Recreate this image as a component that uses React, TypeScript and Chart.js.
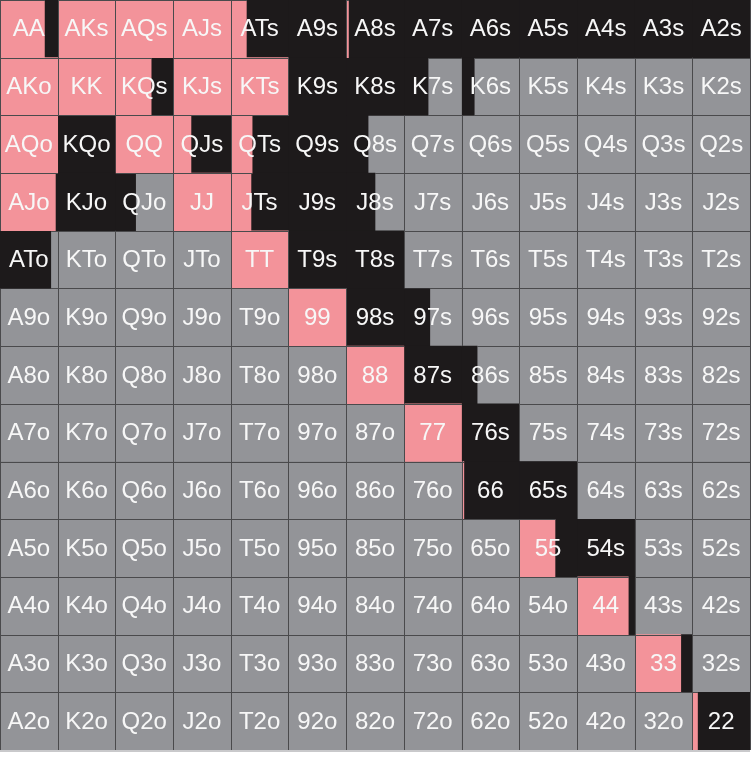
import { useEffect, useRef } from 'react';
import Chart from 'chart.js/auto';

// rank order, top-left is AA
const ranks = ['A', 'K', 'Q', 'J', 'T', '9', '8', '7', '6', '5', '4', '3', '2'];

// share of each hand that is raised (pink), rows by first rank, columns by second
const raiseShare = [
  [0.77, 1, 1, 1, 0.27, 0, 0.04, 0, 0, 0, 0, 0, 0],
  [1, 1, 0.62, 1, 1, 0, 0, 0, 0, 0, 0, 0, 0],
  [1, 0, 1, 0.31, 0.37, 0, 0, 0, 0, 0, 0, 0, 0],
  [0.96, 0, 0, 1, 0.35, 0, 0, 0, 0, 0, 0, 0, 0],
  [0, 0, 0, 0, 1, 0, 0, 0, 0, 0, 0, 0, 0],
  [0, 0, 0, 0, 0, 1, 0, 0, 0, 0, 0, 0, 0],
  [0, 0, 0, 0, 0, 0, 1, 0, 0, 0, 0, 0, 0],
  [0, 0, 0, 0, 0, 0, 0, 1, 0, 0, 0, 0, 0],
  [0, 0, 0, 0, 0, 0, 0, 0, 0.04, 0, 0, 0, 0],
  [0, 0, 0, 0, 0, 0, 0, 0, 0, 0.62, 0, 0, 0],
  [0, 0, 0, 0, 0, 0, 0, 0, 0, 0, 0.89, 0, 0],
  [0, 0, 0, 0, 0, 0, 0, 0, 0, 0, 0, 0.8, 0],
  [0, 0, 0, 0, 0, 0, 0, 0, 0, 0, 0, 0, 0.09],
];

// share of each hand that is called (black); the rest is folded (grey)
const callShare = [
  [0.23, 0, 0, 0, 0.73, 1, 0.96, 1, 1, 1, 1, 1, 1],
  [0, 0, 0.38, 0, 0, 1, 1, 0.42, 0.22, 0, 0, 0, 0],
  [0, 1, 0, 0.69, 0.63, 1, 0.38, 0, 0, 0, 0, 0, 0],
  [0.04, 1, 0.35, 0, 0.65, 1, 0.5, 0, 0, 0, 0, 0, 0],
  [0.88, 0, 0, 0, 0, 1, 1, 0, 0, 0, 0, 0, 0],
  [0, 0, 0, 0, 0, 0, 1, 0.45, 0, 0, 0, 0, 0],
  [0, 0, 0, 0, 0, 0, 0, 1, 0.27, 0, 0, 0, 0],
  [0, 0, 0, 0, 0, 0, 0, 0, 1, 0, 0, 0, 0],
  [0, 0, 0, 0, 0, 0, 0, 0, 0.96, 1, 0, 0, 0],
  [0, 0, 0, 0, 0, 0, 0, 0, 0, 0.38, 1, 0, 0],
  [0, 0, 0, 0, 0, 0, 0, 0, 0, 0, 0.11, 0, 0],
  [0, 0, 0, 0, 0, 0, 0, 0, 0, 0, 0, 0.2, 0],
  [0, 0, 0, 0, 0, 0, 0, 0, 0, 0, 0, 0, 0.91],
];

const PINK = '#f3939a';
const BLACK = '#1d1a1b';
const GREY = '#939498';

const handLabel = (r: number, c: number) => {
  if (r === c) return ranks[r] + ranks[c];
  if (c > r) return ranks[r] + ranks[c] + 's';
  return ranks[c] + ranks[r] + 'o';
};

const segment = (from: number, to: number) => (to - from > 0.001 ? [from, to] : null);

const buildDatasets = () => {
  const sets: any[] = [];
  for (let c = 0; c < ranks.length; c++) {
    const common = { grouped: false, barPercentage: 1, categoryPercentage: 1, borderWidth: 0 };
    sets.push({
      ...common,
      label: 'raise',
      backgroundColor: PINK,
      data: ranks.map((_, r) => segment(c, c + raiseShare[r][c])),
    });
    sets.push({
      ...common,
      label: 'call',
      backgroundColor: BLACK,
      data: ranks.map((_, r) => segment(c + raiseShare[r][c], c + raiseShare[r][c] + callShare[r][c])),
    });
    sets.push({
      ...common,
      label: 'fold',
      backgroundColor: GREY,
      data: ranks.map((_, r) => segment(c + raiseShare[r][c] + callShare[r][c], c + 1)),
    });
  }
  return sets;
};

// dark fill under the bars so the seams between black cells vanish
const darkBase = {
  id: 'darkBase',
  beforeDatasetsDraw(chart: any) {
    const { ctx, chartArea } = chart;
    ctx.save();
    ctx.fillStyle = BLACK;
    ctx.fillRect(chartArea.left, chartArea.top, chartArea.right - chartArea.left, chartArea.bottom - chartArea.top);
    ctx.restore();
  },
};

const gridAndLabels = {
  id: 'gridAndLabels',
  afterDatasetsDraw(chart: any) {
    const { ctx, chartArea, scales } = chart;
    const x = scales.x;
    const y = scales.y;
    const rowH = (chartArea.bottom - chartArea.top) / ranks.length;

    ctx.save();
    ctx.globalCompositeOperation = 'darken';
    ctx.strokeStyle = '#4a4a4c';
    ctx.lineWidth = 1;
    ctx.beginPath();
    for (let k = 0; k <= ranks.length; k++) {
      const px = Math.round(x.getPixelForValue(k)) + 0.5;
      ctx.moveTo(px, chartArea.top);
      ctx.lineTo(px, chartArea.bottom);
      const py = Math.round(chartArea.top + k * rowH) + 0.5;
      ctx.moveTo(chartArea.left, py);
      ctx.lineTo(chartArea.right, py);
    }
    ctx.stroke();
    ctx.restore();

    ctx.save();
    ctx.fillStyle = '#c9c9cb';
    ctx.fillRect(chartArea.left, chartArea.bottom, chartArea.right - chartArea.left, 2);
    ctx.fillStyle = '#f7f7f7';
    ctx.font = '24px "Liberation Sans", Arial, sans-serif';
    ctx.textAlign = 'center';
    ctx.textBaseline = 'middle';
    ranks.forEach((_, r) => {
      ranks.forEach((__, c) => {
        ctx.fillText(handLabel(r, c), x.getPixelForValue(c + 0.5), y.getPixelForValue(r) + 1);
      });
    });
    ctx.restore();
  },
};

const RangeChart = () => {
  const chartRef = useRef<HTMLCanvasElement>(null);

  useEffect(() => {
    const chart = new Chart(chartRef.current!, {
      type: 'bar',
      data: {
        labels: ranks,
        datasets: buildDatasets(),
      },
      options: {
        indexAxis: 'y',
        animation: false,
        responsive: true,
        maintainAspectRatio: false,
        layout: { padding: { top: 0, left: 0, right: 1, bottom: 7 } },
        scales: {
          x: { type: 'linear', min: 0, max: 13, display: false },
          y: { type: 'category', display: false },
        },
        plugins: {
          legend: { display: false },
          tooltip: { enabled: false },
        },
      },
      plugins: [darkBase, gridAndLabels],
    });

    return () => {
      chart.destroy();
    };
  }, []);

  return (
    <div style={{ position: 'fixed', left: 0, top: 0, width: 751, height: 757, background: '#fff' }}>
      <canvas ref={chartRef}></canvas>
    </div>
  );
};

export default function App() {
  return <RangeChart />;
}
